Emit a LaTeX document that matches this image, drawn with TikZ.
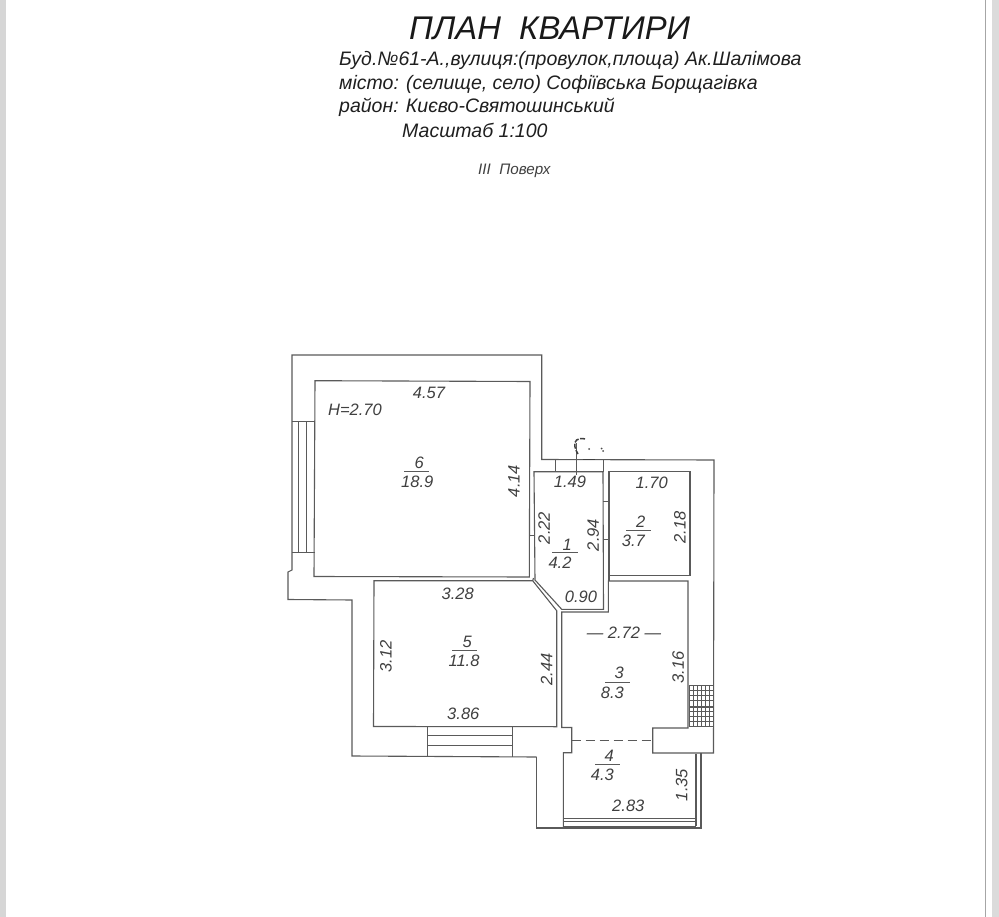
\documentclass[tikz,border=0pt]{standalone}
\usepackage{fontspec}
\setmainfont{Liberation Sans}
\definecolor{wall}{HTML}{5A5A5A}
\tikzset{
  wallline/.style={draw=wall,line width=1.1pt,line join=miter},
  thinline/.style={draw=wall,line width=0.8pt},
  dim/.style={inner sep=0pt,text=black!75,font=\fontsize{16.5}{16.5}\selectfont\itshape},
  dimv/.style={dim,rotate=90},
  head/.style={inner sep=0pt,anchor=base west,text=black!88,font=\fontsize{19.5}{19.5}\selectfont\itshape},
  rulebar/.style={draw=wall,line width=0.9pt}
}
\begin{document}
\begin{tikzpicture}[x=1pt,y=-1pt]
\useasboundingbox (0,0) rectangle (999,917);
\fill[white] (0,0) rectangle (999,917);
% page edges
\fill[black!16] (0,0) rectangle (6,917);
\fill[black!14] (992,0) rectangle (999,917);
\draw[black!35,line width=0.8pt] (985,0) -- (985,917);
% texts of the header
\node[inner sep=0pt,anchor=base west,text=black!90,font=\fontsize{32.8}{32.8}\selectfont\itshape] (title) at (409,39.5) {ПЛАН\ \ КВАРТИРИ};
\node[head] (l1) at (339,65.7) {Буд.№61-А.,вулиця:(провулок,площа) Ак.Шалімова};
\node[head] (l2) at (339,89.5) {місто: (селище, село) Софіївська Борщагівка};
\node[head] (l3) at (339,113) {район: Києво-Святошинський};
\node[head] (l4) at (402,137.7) {Масштаб 1:100};
\node[inner sep=0pt,anchor=base west,text=black!75,font=\fontsize{15.2}{15.2}\selectfont\itshape] (floor) at (478,175) {III\ \ Поверх};
% outer contour
\draw[wallline] (536.7,757) -- (352,756) -- (352,600) -- (288,599.5) -- (288,572) -- (292,570) -- (292,355) -- (541.7,355) -- (541.7,459.5) -- (714,460) -- (713.5,753) -- (652.7,753) -- (652.7,728) -- (688,728) -- (688,581) -- (608.3,581) -- (608.3,612) -- (561.7,612) -- (561.7,727.5) -- (571.7,727.5) -- (571.7,752.7) -- (563.3,752.7) -- (563.3,828);
\draw[wallline] (536.7,757) -- (536.7,828) -- (701,828) -- (701,753);
\draw[wallline] (696,753.5) -- (696,826);
% room 6
\draw[wallline] (315,380.7) -- (530,381.5) -- (529.3,577) -- (314,576.5) -- cycle;
% room 5
\draw[wallline] (374,580.7) -- (532.7,580.7) -- (556.7,610.7) -- (556.7,726.7) -- (373.5,726.5) -- cycle;
% room 1
\draw[wallline] (534,471.7) -- (603,471.7) -- (603.5,609.3) -- (561.7,609.3) -- (535,580) -- cycle;
\draw[wallline] (532.7,580.7) -- (533.5,578);
% room 2
\draw[wallline] (609,471.7) -- (690,471.7) -- (690,575.7) -- (609,575.7) -- cycle;
\draw[wallline] (609,575.7) -- (609,581);
% ticks
\draw[thinline] (529.3,535.7) -- (534,535.7);
\draw[thinline] (603,501.7) -- (609,501.7) (603,539.3) -- (609,539.3);
\draw[thinline] (555.7,460) -- (555.7,471.7) (603,460) -- (603,471.7);
% door symbol
\draw[wall,line width=1pt] (576.7,443) -- (576.7,475);
\draw[black!75,line width=1.5pt,dash pattern=on 5pt off 1.5pt] (585,439) .. controls (578,437) and (573,441) .. (575,447) .. controls (575.5,450) and (577,452) .. (578,454);
\draw[black!75,line width=1.4pt] (582.7,459.3) -- (595,459.3);
\fill[black!70] (589,449) circle (1) (601.7,448.5) circle (1) (603,451) circle (1);
% left window
\draw[thinline] (292,421.7) -- (315,421.7) (292,552.7) -- (315,552.7);
\draw[thinline] (298,421.7) -- (298,552.7) (306,421.7) -- (306,552.7);
% bottom window
\draw[thinline] (427.3,726.7) -- (427.3,756.5) (512.3,726.7) -- (512.3,756.5);
\draw[thinline] (427.3,735.7) -- (512.3,735.7) (427.3,745) -- (512.3,745);
% balcony
\draw[draw=wall,line width=1pt,dash pattern=on 9pt off 5pt] (571.7,740) -- (652.7,740);
\draw[thinline] (563.3,818) -- (696,818) (563.3,821) -- (696,821) (563.3,826.5) -- (696,826.5);
% tile grid
\draw[thinline] (689.3,685.7) rectangle (713,726.7);
\foreach \gx in {693.3,697.2,701.2,705.1,709} \draw[thinline] (\gx,685.7) -- (\gx,726.7);
\foreach \gy in {690.7,695.7,700.7,711.7,716.7,721.7} \draw[thinline] (689.3,\gy) -- (713,\gy);
\draw[wall,line width=1.8pt] (689.3,706.7) -- (713,706.7);
% room labels
\draw[rulebar] (404,471.7) -- (429,471.7);
\node[dim] (r6a) at (419.3,463) {6};
\node[dim] (r6b) at (417.3,481.7) {18.9};
\draw[rulebar] (552,552.3) -- (577.7,552.3);
\node[dim] (r1a) at (567.3,545) {1};
\node[dim] (r1b) at (560,562.7) {4.2};
\draw[rulebar] (626,530) -- (651,530);
\node[dim] (r2a) at (640.7,521.7) {2};
\node[dim] (r2b) at (633.3,540.7) {3.7};
\draw[rulebar] (452.3,650.7) -- (477.3,650.7);
\node[dim] (r5a) at (467.3,641.7) {5};
\node[dim] (r5b) at (464,661) {11.8};
\draw[rulebar] (605,682) -- (630,682);
\node[dim] (r3a) at (619.3,673.3) {3};
\node[dim] (r3b) at (612.3,692.7) {8.3};
\draw[rulebar] (595,764) -- (620,764);
\node[dim] (r4a) at (609.3,756) {4};
\node[dim] (r4b) at (602.3,775) {4.3};
% dimensions
\node[dim] (d1) at (429,392.7) {4.57};
\node[dim] (hh) at (355,410) {H=2.70};
\node[dimv] (d2) at (514,481) {4.14};
\node[dimv] (d3) at (544,528) {2.22};
\node[dim] (d4) at (570,481.7) {1.49};
\node[dim] (d5) at (651.7,483.3) {1.70};
\node[dimv] (d6) at (593.3,535) {2.94};
\node[dimv] (d7) at (680,527.3) {2.18};
\node[dim] (d8) at (581,596.7) {0.90};
\node[dim] (d9) at (457.7,594) {3.28};
\node[dimv] (d10) at (386,656.7) {3.12};
\node[dimv] (d11) at (546.7,669.3) {2.44};
\node[dim] (d12) at (463.3,714) {3.86};
\node[dim] (d13) at (624,632.7) {—\ 2.72\ —};
\node[dimv] (d14) at (678.3,667.7) {3.16};
\node[dimv] (d15) at (681.7,785) {1.35};
\node[dim] (d16) at (628.3,806) {2.83};
\end{tikzpicture}
\end{document}
